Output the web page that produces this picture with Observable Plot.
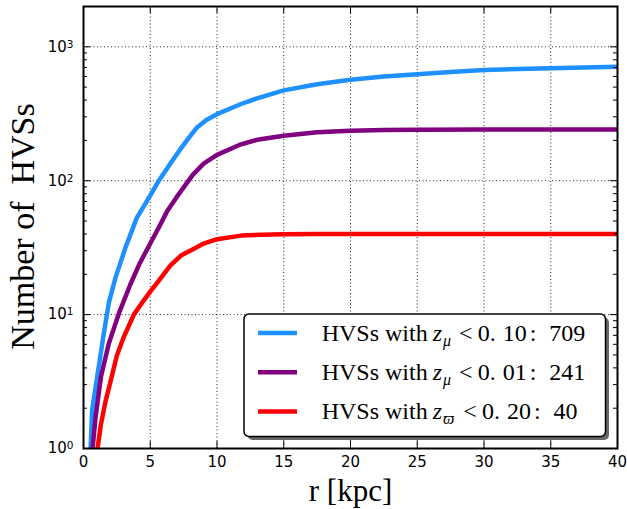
<!DOCTYPE html>
<html>
<head>
<meta charset="utf-8">
<script src="https://cdn.jsdelivr.net/npm/d3@7"></script>
<script src="https://cdn.jsdelivr.net/npm/@observablehq/plot@0.6"></script>
<style>
  html, body { margin: 0; padding: 0; background: #fff; }
  #chart { position: relative; width: 627px; height: 509px; }
  #legend { position: absolute; left: 0; top: 0; pointer-events: none; }
  #chart svg g[aria-label="x-axis tick label"],
  #chart svg g[aria-label="y-axis tick label"] {
    font-size: 15px;
    font-family: "DejaVu Sans", sans-serif;
  }
</style>
</head>
<body>
<div id="chart"></div>
<script>
// Cumulative number of HVSs within galactocentric radius r (kpc)
const rBlue   = [0.5, 0.65, 1.0, 1.5, 1.9, 2.4, 3.15, 4.0, 4.5, 5.0, 5.64, 6.5, 7.2, 7.9, 8.5, 9.2, 10, 11.8, 13, 15, 17.5, 20, 22.5, 25, 27.5, 30, 35, 40];
const nBlue   = [0.85, 1.95, 3.3, 7.0, 12.3, 18.9, 31.8, 53, 64, 77.5, 100, 134, 169, 210, 250, 284, 314, 374, 412, 473, 525, 568, 600, 625, 648, 671, 693, 709];

const rPurple = [0.6, 0.9, 1.3, 1.9, 2.65, 3.5, 4.2, 5.0, 5.6, 6.3, 7.0, 7.8, 8.2, 9.0, 10, 11.8, 13, 15, 17.5, 20, 22.5, 25, 30, 35, 40];
const nPurple = [0.82, 1.7, 3.4, 6.1, 10.2, 16.7, 24, 34, 44, 60, 76, 98, 111, 134, 156, 187, 202, 217, 230, 236, 239, 240, 241, 241, 241];

const rRed    = [0.95, 1.3, 1.65, 2.0, 2.5, 3.0, 3.77, 4.4, 5.0, 5.5, 6.0, 6.5, 7.3, 8.2, 9.0, 10, 11.8, 13.3, 15, 17.5, 20, 25, 30, 35, 40];
const nRed    = [0.85, 1.5, 2.25, 3.1, 4.95, 6.75, 10, 12.3, 14.85, 17.2, 20, 23.2, 27.6, 30.8, 33.9, 36.6, 38.9, 39.5, 39.8, 40, 40, 40, 40, 40, 40];

// Selection cuts shown in the legend
const cutSymbol    = ["μ", "μ", "ϖ"];
const cutThreshold = ["0. 10", "0. 01", "0. 20"];
const seriesColors = ["#1E90FF", "#800080", "#FF0000"];

// Axis ticks and titles
const xTicks = [0, 5, 10, 15, 20, 25, 30, 35, 40];
const xGrid  = [5, 10, 15, 20, 25, 30, 35];
const yMajor = [1, 10, 100, 1000];
const yGrid  = [10, 100, 1000];
const xTitle = "r [kpc]";
const yTitle = "Number of\u00a0\u00a0HVSs";

const series = [
  {r: rBlue, n: nBlue},
  {r: rPurple, n: nPurple},
  {r: rRed, n: nRed}
].map((s, i) => ({
  color: seriesColors[i],
  sym: cutSymbol[i],
  thr: cutThreshold[i],
  total: s.n[s.n.length - 1],
  rows: s.r.map((r, j) => ({r, n: s.n[j]}))
}));

const yMinor = [];
for (let k = 0; k <= 3; k++) for (let m = 2; m <= 9; m++) {
  const v = m * 10 ** k;
  if (v < 2000) yMinor.push(v);
}

const W = 627, H = 509;
const mL = 83, mR = 10, mT = 6, mB = 61;
const fw = W - mL - mR, fh = H - mT - mB;
const serif = "Liberation Serif, 'Times New Roman', serif";
const sans = "DejaVu Sans, sans-serif";

const grid = {stroke: "#000", strokeWidth: 1, strokeDasharray: "1,2.5", strokeOpacity: 0.85};

const plot = Plot.plot({
  width: W, height: H,
  marginLeft: mL, marginRight: mR, marginTop: mT, marginBottom: mB,
  style: {fontFamily: sans, fontSize: "15px", background: "#fff", color: "#000"},
  x: {domain: [0, 40], label: null},
  y: {type: "log", domain: [1, 2000], label: null},
  marks: [
    Plot.ruleX(xGrid, {x: d => d, ...grid}),
    Plot.ruleY(yGrid, {y: d => d, ...grid}),
    ...series.map(s => Plot.line(s.rows, {x: "r", y: "n", stroke: s.color, strokeWidth: 4.5, clip: true, strokeLinejoin: "round"})),
    // tick labels; the y labels get their exponent as a superscript below
    Plot.axisX({ticks: xTicks, tickSize: 0, tickPadding: 8, fontSize: 15, label: null}),
    Plot.axisY({ticks: yMajor, tickSize: 0, tickPadding: 10, fontSize: 15, label: null,
                tickFormat: d => "10^" + Math.round(Math.log10(d))}),
    // inward ticks on all four sides
    Plot.tickX(xTicks, {x: d => d, insetTop: fh - 7, stroke: "#000"}),
    Plot.tickX(xTicks, {x: d => d, insetBottom: fh - 7, stroke: "#000"}),
    Plot.tickY(yMajor, {y: d => d, insetRight: fw - 7, stroke: "#000"}),
    Plot.tickY(yMajor, {y: d => d, insetLeft: fw - 7, stroke: "#000"}),
    Plot.tickY(yMinor, {y: d => d, insetRight: fw - 4, stroke: "#000"}),
    Plot.tickY(yMinor, {y: d => d, insetLeft: fw - 4, stroke: "#000"}),
    Plot.frame({stroke: "#000", strokeWidth: 2}),
    Plot.text([yTitle], {text: d => d, frameAnchor: "left", rotate: -90, dx: -50, dy: -1,
                         textAnchor: "middle", lineAnchor: "bottom",
                         fontFamily: serif, fontSize: 34, fill: "#000"}),
    Plot.text([xTitle], {text: d => d, frameAnchor: "bottom", dy: 52, textAnchor: "middle", lineAnchor: "bottom",
                         fontFamily: serif, fontSize: 31, fill: "#000"})
  ]
});

// Render "10^k" labels as 10 with a raised exponent
d3.select(plot).selectAll('g[aria-label="y-axis tick label"] text').each(function () {
  const [base, exp] = this.textContent.split("^");
  const t = d3.select(this);
  t.text(base);
  t.append("tspan").attr("dy", "-0.38em").attr("font-size", "10.5px").text(exp);
});

const chart = document.getElementById("chart");
chart.appendChild(plot);

// Legend box with drop shadow
const leg = d3.select(chart).append("svg")
  .attr("id", "legend").attr("width", W).attr("height", H);
const bx = 244, by = 314, bw = 361.5, bh = 122.5;
leg.append("rect").attr("x", bx + 3.5).attr("y", by + 3.5).attr("width", bw).attr("height", bh)
  .attr("rx", 5).attr("fill", "#666");
leg.append("rect").attr("x", bx).attr("y", by).attr("width", bw).attr("height", bh)
  .attr("rx", 5).attr("fill", "#fff").attr("stroke", "#000").attr("stroke-width", 1.5);

series.forEach((s, i) => {
  const base = 340.7 + i * 39.2;
  leg.append("line")
    .attr("x1", 258).attr("x2", 297).attr("y1", base - 7.7).attr("y2", base - 7.7)
    .attr("stroke", s.color).attr("stroke-width", 4.5);
  const t = leg.append("text").attr("x", 321.7).attr("y", base)
    .attr("font-family", serif).attr("font-size", 24).attr("fill", "#000");
  t.append("tspan").text("HVSs with");
  t.append("tspan").attr("dx", 5).attr("font-style", "italic").text("z");
  t.append("tspan").attr("dx", 1).attr("dy", 5).attr("font-size", 16).attr("font-style", "italic").text(s.sym);
  t.append("tspan").attr("dx", s.sym === "ϖ" ? 9 : 8).attr("dy", -5).text("<");
  const parts = s.thr.split(" ");
  t.append("tspan").attr("dx", 5).text(parts[0]);
  t.append("tspan").attr("dx", 7).text(parts[1]);
  t.append("tspan").attr("dx", 3).text(":");
  t.append("tspan").attr("dx", 13).text(String(s.total));
});
</script>
</body>
</html>
